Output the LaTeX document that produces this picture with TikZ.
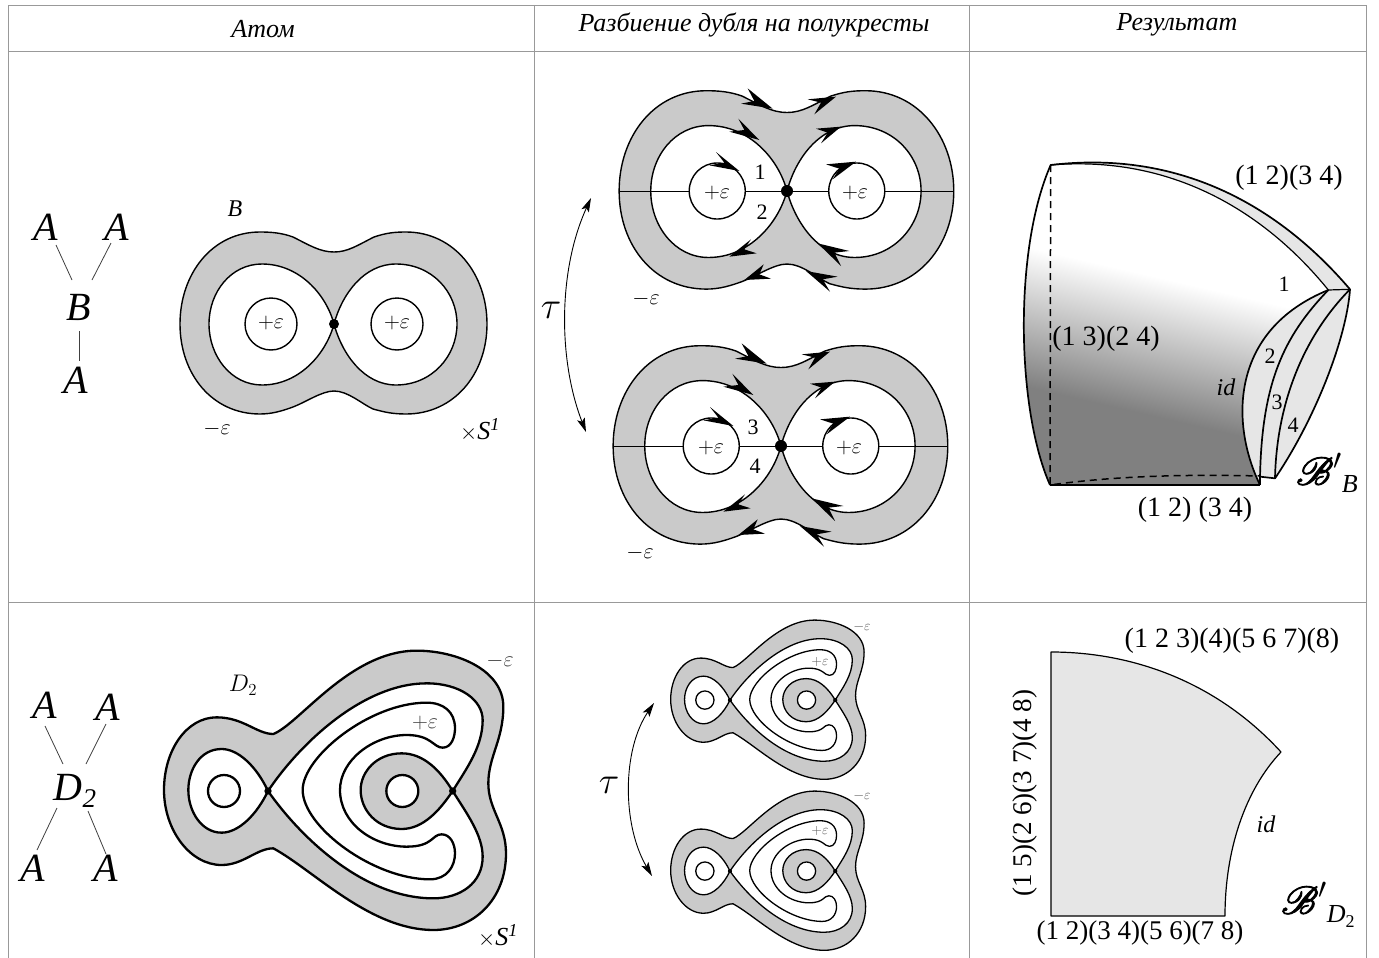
\RequirePackage{fix-cm}
\documentclass[tikz,border=0pt]{standalone}
\usepackage{fontspec}
\usepackage{mathrsfs}
\setmainfont{Liberation Serif}
\usetikzlibrary{arrows.meta}
\definecolor{atomgray}{HTML}{CACACA}
\definecolor{sheet}{HTML}{E6E6E6}
\definecolor{rule}{HTML}{999999}
\definecolor{sheetdark}{HTML}{808080}
\pgfdeclareverticalshading{sheetgrad}{100bp}{color(0bp)=(sheetdark);color(35bp)=(sheetdark);color(56bp)=(white);color(100bp)=(white)}
\newcommand\fs[1]{\fontsize{#1}{#1}\selectfont}
\newcommand\bigB{\scalebox{3.9}{\fs{10}\special{pdf:code 2 Tr 0.25 w}$\mathscr{B}$\special{pdf:code 0 Tr}}}
\newcommand\gl[6]{\draw[graphline] ([xshift=#2pt,yshift=#3pt]#1.center) -- ([xshift=#5pt,yshift=#6pt]#4.center);}
\newcommand\Bouter{(0,-72) .. controls (14,-72) and (24,-79) .. (40,-87) .. controls (52,-91) and (60,-92) .. (72,-92) .. controls (120,-92) and (153,-50) .. (153,0) .. controls (153,50) and (120,90) .. (72,90) .. controls (58,90) and (50,88) .. (39,85) .. controls (28,80) and (14,67) .. (0,67) .. controls (-12,67) and (-28,78) .. (-41,83) .. controls (-52,87) and (-62,90) .. (-74,90) .. controls (-122,90) and (-154,50) .. (-154,0) .. controls (-154,-50) and (-122,-92) .. (-74,-92) .. controls (-62,-92) and (-52,-91) .. (-41,-87) .. controls (-25,-79) and (-14,-72) .. (0,-72) -- cycle}
\newcommand\Binner{(0,0) .. controls (8,-30) and (30,-60) .. (62,-60) .. controls (98,-60) and (123,-32) .. (123,0) .. controls (123,32) and (98,61) .. (62,61) .. controls (30,61) and (8,30) .. (0,0) .. controls (-8,-30) and (-35,-60) .. (-72,-60) .. controls (-103,-60) and (-125,-32) .. (-125,0) .. controls (-125,32) and (-103,61) .. (-72,61) .. controls (-35,61) and (-8,30) .. (0,0) -- cycle}
\newcommand\Dbody[1]{%
 \draw[atomline,line width=#1,fill=atomgray] (370,282) .. controls (450,250) and (600,32) .. (800,32) .. controls (920,32) and (1060,90) .. (1060,200) .. controls (1060,300) and (1015,350) .. (1015,430) .. controls (1015,510) and (1068,550) .. (1068,640) .. controls (1068,780) and (970,870) .. (850,870) .. controls (660,870) and (490,690) .. (370,625) .. controls (320,625) and (280,675) .. (215,675) .. controls (120,675) and (42,570) .. (42,450) .. controls (42,330) and (110,232) .. (200,232) .. controls (280,232) and (320,282) .. (370,282) -- cycle;
 \draw[atomline,line width=#1,fill=white] (354,453) .. controls (320,380) and (265,327) .. (215,327) .. controls (150,327) and (115,390) .. (115,450) .. controls (115,515) and (155,578) .. (215,578) .. controls (265,578) and (320,525) .. (354,453) -- cycle;
 \draw[atomline,line width=#1,fill=white] (354,453) .. controls (450,310) and (640,130) .. (830,130) .. controls (930,130) and (998,180) .. (998,240) .. controls (998,320) and (950,385) .. (908,453) .. controls (950,520) and (998,585) .. (998,650) .. controls (998,730) and (930,775) .. (850,775) .. controls (640,775) and (450,590) .. (354,453) -- cycle;
 \draw[atomline,line width=#1] (878,323) .. controls (905,323) and (915,290) .. (915,265) .. controls (915,215) and (880,188) .. (830,188) .. controls (660,188) and (458,350) .. (458,450) .. controls (458,560) and (670,718) .. (840,718) .. controls (890,718) and (915,680) .. (915,640) .. controls (915,610) and (900,583) .. (875,583) .. controls (845,583) and (850,620) .. (770,620) .. controls (670,620) and (570,550) .. (570,450) .. controls (570,360) and (670,285) .. (770,285) .. controls (845,285) and (850,323) .. (878,323) -- cycle;
 \draw[atomline,line width=#1,fill=atomgray] (908,453) .. controls (870,390) and (820,340) .. (755,340) .. controls (680,340) and (632,395) .. (632,450) .. controls (632,510) and (680,567) .. (755,567) .. controls (820,567) and (870,510) .. (908,453) -- cycle;
 \draw[atomline,line width=#1,fill=white] (222,453) circle (48);
 \draw[atomline,line width=#1,fill=white] (757,453) circle (48);
 \fill (354,453) circle (11);
 \fill (908,453) circle (11);
}
\newcommand\ah[4]{\fill #1 -- #2 -- #3 -- #4 -- cycle;}
\newcommand\Dbl[2]{%
 \begin{scope}[shift={(#1,#2)},scale=1.09]
  \draw[atomline,fill=atomgray] \Bouter;
  \draw[atomline,fill=white] \Binner;
  \draw[atomline,line width=1pt] (-154,0) -- (153,0);
  \draw[atomline,fill=white] (-64,0) circle (25.7);
  \draw[atomline,fill=white] (64,0) circle (25.7);
  \fill (0,0) circle (5.5);
 \end{scope}
 \begin{scope}[shift={(#1,#2)},scale=1/3,shift={(-653,-365)}]
  \ah{(610,118)}{(535,57)}{(555,95)}{(515,103)}
  \ah{(800,82)}{(715,90)}{(755,100)}{(735,135)}
  \ah{(570,212)}{(507,148)}{(525,182)}{(480,187)}
  \ah{(815,172)}{(740,178)}{(775,190)}{(755,222)}
  \ah{(510,305)}{(440,248)}{(465,280)}{(420,288)}
  \ah{(860,277)}{(770,285)}{(810,298)}{(790,330)}
  \ah{(480,562)}{(545,510)}{(525,540)}{(562,552)}
  \ah{(745,522)}{(840,545)}{(795,550)}{(815,590)}
  \ah{(525,632)}{(583,585)}{(570,615)}{(605,628)}
  \ah{(710,605)}{(805,622)}{(760,630)}{(782,667)}
 \end{scope}
}
\tikzset{
 atomline/.style={draw=black,line width=1.4pt,line join=round},
 gridline/.style={draw=rule,line width=0.8pt},
 graphline/.style={draw=black!75,line width=0.8pt},
 letter/.style={font=\fs{40}\itshape,inner sep=0pt},
 head/.style={font=\fs{26}\itshape,inner sep=0pt},
 perm/.style={font=\fs{28},inner sep=0pt},
 small/.style={font=\fs{22},inner sep=0pt},
 tiny/.style={font=\fs{14},inner sep=0pt,text=black!65},
 twist/.style={line width=0.9pt,{Stealth[length=14pt,width=8pt,inset=3pt]}-{Stealth[length=14pt,width=8pt,inset=3pt]}},
 edge3/.style={draw=black,line width=1.7pt,line join=round},
}
\begin{document}
\begin{tikzpicture}[x=1pt,y=-1pt]
\useasboundingbox (0,0) rectangle (1379,958);
\fill[white] (0,0) rectangle (1379,958);
% table
\draw[gridline] (8,958) -- (8,5) -- (1366,5) -- (1366,958);
\draw[gridline] (8,51) -- (1366,51) (8,602) -- (1366,602);
\draw[gridline] (534,5) -- (534,958) (969,5) -- (969,958);
\node[head] (h1) at (263,29) {Атом};
\node[head] (h2) at (754,25) {Разбиение дубля на полукресты};
\node[head] (h3) at (1177,25) {Результат};
% graph B
\node[letter] (a1) at (46,227) {A};
\node[letter] (a2) at (117,227) {A};
\node[letter] (b0) at (79,307) {B};
\node[letter] (a3) at (76,380) {A};
\gl{a1}{10}{-18}{b0}{-7}{27}
\gl{a2}{-6}{-16}{b0}{13}{27}
\gl{b0}{0}{-24}{a3}{3}{19}
% atom B
\begin{scope}[shift={(334,324)}]
 \draw[atomline,fill=atomgray] \Bouter;
 \draw[atomline,fill=white] \Binner;
 \draw[atomline,fill=white] (-63,0) circle (26);
 \draw[atomline,fill=white] (63,0) circle (26);
 \fill (0,0) circle (5);
\end{scope}
\node[font=\fs{24}\itshape,inner sep=0pt] (lb) at (235,209) {B};
\node[small] (pe1) at (271,323) {$+\varepsilon$};
\node[small] (pe2) at (397,323) {$+\varepsilon$};
\node[small] (me1) at (217,429) {$-\varepsilon$};
\node[small] (sb) at (480,430) {$\times$\fs{26}\textit{S}\textsuperscript{\textit{1}}};
% doubles
\Dbl{787}{191}
\Dbl{781}{446}
\node[small] (pe3) at (717,193) {$+\varepsilon$};
\node[small] (pe4) at (855,193) {$+\varepsilon$};
\node[small] (pe5) at (711,448) {$+\varepsilon$};
\node[small] (pe6) at (849,448) {$+\varepsilon$};
\node[small] (n1) at (760,172) {1};
\node[small] (n2) at (762,212) {2};
\node[small] (n3) at (753,427) {3};
\node[small] (n4) at (755,466) {4};
\node[small] (me2) at (646,299) {$-\varepsilon$};
\node[small] (me3) at (640,553) {$-\varepsilon$};
\node[font=\fs{38},inner sep=0pt] (t1) at (551,310) {$\tau$};
\coordinate (t1a) at (591,198);
\coordinate (t1b) at (586,432);
\draw[twist] (t1a) .. controls (558,270) and (558,360) .. (t1b);
% result B
\begin{scope}[shift={(1010,150)},scale=1/3]
 \fill[sheet] (122,45) .. controls (500,0) and (800,160) .. (1020,418) .. controls (1010,560) and (920,800) .. (795,985) -- (750,980) -- (750,1005) .. controls (660,820) and (660,540) .. (955,420) .. controls (760,180) and (480,15) .. (122,45) -- cycle;
 \path[shading=sheetgrad,shading angle=-13] (122,45) .. controls (480,15) and (760,180) .. (955,420) .. controls (660,540) and (660,820) .. (750,1005) -- (120,1005) .. controls (20,780) and (10,300) .. (122,45) -- cycle;
 \draw[edge3] (120,1005) .. controls (20,780) and (10,300) .. (122,45) .. controls (500,0) and (800,160) .. (1020,418) .. controls (1010,560) and (920,800) .. (795,985) -- (750,980);
 \draw[atomline,line width=1.2pt] (122,45) .. controls (480,15) and (760,180) .. (955,420) -- (1020,418);
 \draw[edge3] (750,1005) .. controls (660,820) and (660,540) .. (955,420);
 \draw[edge3] (750,1005) -- (750,985) .. controls (755,700) and (820,560) .. (955,420);
 \draw[edge3] (795,985) .. controls (800,760) and (880,560) .. (1020,418);
 \draw[edge3] (120,1005) -- (750,1005);
 \draw[edge3,dashed,dash pattern=on 7pt off 5pt,line width=1.5pt] (122,45) -- (120,1005) .. controls (300,980) and (500,972) .. (750,978);
\end{scope}
\node[perm] (p1) at (1289,178) {(1 2)(3 4)};
\node[perm] (p2) at (1106,339) {(1 3)(2 4)};
\node[perm] (p3) at (1195,510) {(1 2) (3 4)};
\node[small] (m1) at (1284,284) {1};
\node[small] (m2) at (1270,356) {2};
\node[small] (m3) at (1277,402) {3};
\node[small] (m4) at (1293,425) {4};
\node[font=\fs{24}\itshape,inner sep=0pt] (id1) at (1226,387) {id};
\node[inner sep=0pt] (sb1) at (1327,473) {\bigB\fs{42}$'$\raisebox{-8pt}{\fs{26}\textit{B}}};
% graph D2
\node[letter] (c1) at (45,705) {A};
\node[letter] (c2) at (108,707) {A};
\node[letter] (d0) at (75,787) {D\smash{\raisebox{-7pt}{\fs{27}2}}};
\node[letter] (c3) at (33,868) {A};
\node[letter] (c4) at (106,868) {A};
\gl{c1}{0}{-21}{d0}{-12}{23}
\gl{c2}{-2}{-17}{d0}{11}{23}
\gl{d0}{-18}{-21}{c3}{4}{18}
\gl{d0}{13}{-24}{c4}{0}{14}
% atom D2
\begin{scope}[shift={(150,640)},scale=1/3]
 \Dbody{2.3pt}
\end{scope}
\node[font=\fs{24},inner sep=0pt] (ld) at (243,685) {$D_2$};
\node[small,text=black!75] (me4) at (500,661) {$-\varepsilon$};
\node[small,text=black!75] (pe7) at (425,723) {$+\varepsilon$};
\node[small] (sd) at (498,936) {$\times$\fs{26}\textit{S}\textsuperscript{\textit{1}}};
% small D2 pair
\begin{scope}[shift={(662.7,614)},scale=0.19]
 \Dbody{1.3pt}
\end{scope}
\begin{scope}[shift={(662.7,785)},scale=0.19]
 \Dbody{1.3pt}
\end{scope}
\node[tiny] (me5) at (862,627) {$-\varepsilon$};
\node[tiny] (pe8) at (820,662) {$+\varepsilon$};
\node[tiny] (me6) at (862,796) {$-\varepsilon$};
\node[tiny] (pe9) at (820,831) {$+\varepsilon$};
\node[font=\fs{38},inner sep=0pt] (t2) at (609,785) {$\tau$};
\coordinate (t2a) at (654,703);
\coordinate (t2b) at (652,876);
\draw[twist] (t2a) .. controls (622,750) and (622,825) .. (t2b);
% result D2
\draw[atomline,line width=1.2pt,fill=sheet] (1051,652) .. controls (1130,652) and (1215,680) .. (1281,752) .. controls (1245,790) and (1225,850) .. (1225,916) -- (1051,916) -- cycle;
\node[perm] (q1) at (1232,641) {(1 2 3)(4)(5 6 7)(8)};
\node[font=\fs{27},inner sep=0pt,rotate=90] (q2) at (1025,793) {(1 5)(2 6)(3 7)(4 8)};
\node[font=\fs{27},inner sep=0pt] (q3) at (1140,933) {(1 2)(3 4)(5 6)(7 8)};
\node[font=\fs{24}\itshape,inner sep=0pt] (id2) at (1266,824) {id};
\node[inner sep=0pt] (sb2) at (1318,905) {\bigB\fs{42}$'$\raisebox{-9pt}{\fs{26}\textit{D}\raisebox{-5pt}{\fs{18}2}}};
\end{tikzpicture}
\end{document}
